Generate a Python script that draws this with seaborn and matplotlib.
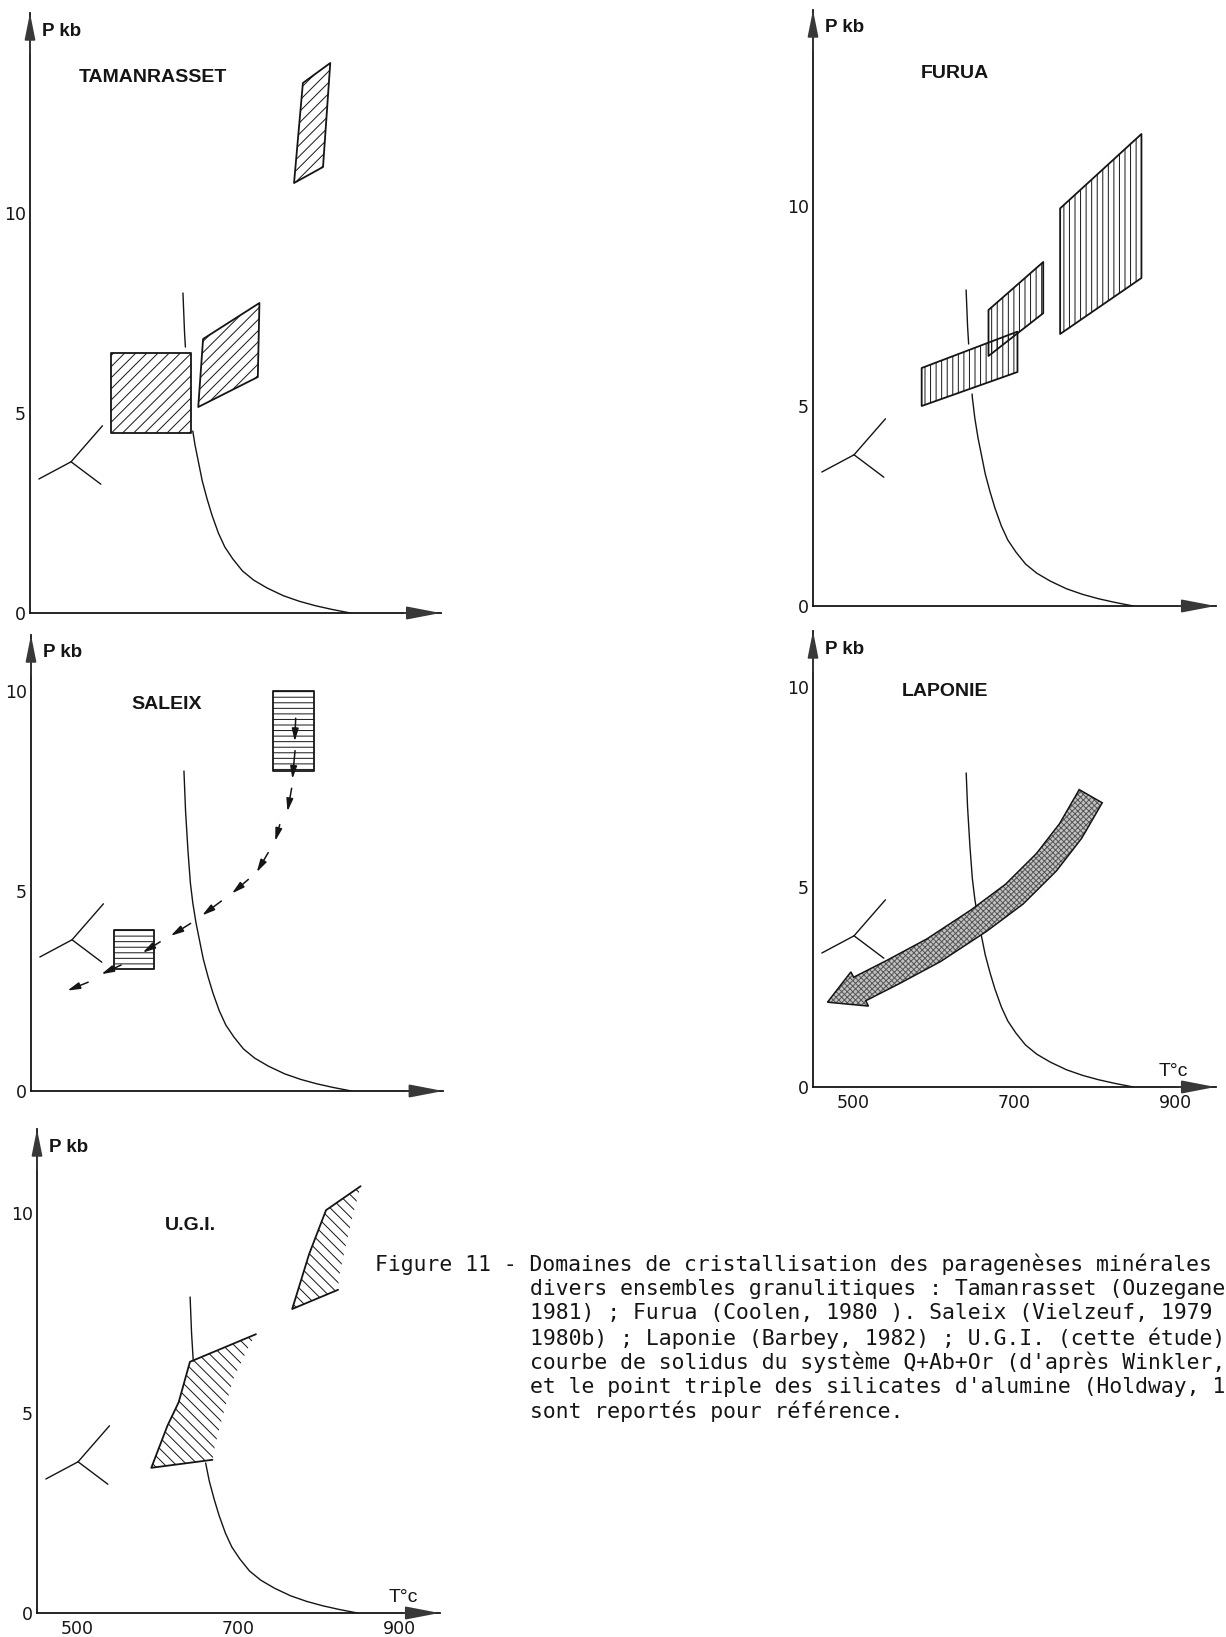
import numpy as np
import matplotlib
matplotlib.use("Agg")
import matplotlib.pyplot as plt
from matplotlib.patches import Polygon
import seaborn as sns

# ---------------- data (T in °C, P in kb) ----------------
X_TICKS = [500, 550, 600, 650, 700, 750, 800, 850, 900]
X_LABELED = [500, 700, 900]
Y_LABELED = [0, 5, 10]

# solidus Q+Ab+Or (Winkler)
SOL_T = np.array([640, 642, 645, 648, 651, 655, 659, 664, 670, 676, 684, 692, 702,
                  714, 728, 745, 765, 785, 805, 825, 848])
SOL_P = np.array([8.0, 7.0, 6.0, 5.2, 4.7, 4.2, 3.8, 3.3, 2.85, 2.45, 2.0, 1.65, 1.35,
                  1.05, 0.82, 0.62, 0.43, 0.29, 0.18, 0.09, 0.0])

# aluminosilicate triple point (Holdaway) and the three reaction lines
TP_T, TP_P = 501, 3.78
AS_END_T = [461, 540, 538]
AS_END_P = [3.35, 4.68, 3.22]

# Tamanrasset domains
TAM_A_T = [550, 550, 650, 650]
TAM_A_P = [4.5, 6.5, 6.5, 4.5]
TAM_B_T = [659, 665, 735, 733]
TAM_B_P = [5.15, 6.85, 7.75, 5.9]
TAM_C_T = [778, 789, 823, 814]
TAM_C_P = [10.75, 13.25, 13.75, 11.15]

# Furua domains
FUR_A_T = [585, 585, 704, 704]
FUR_A_P = [5.0, 5.95, 6.86, 5.85]
FUR_B_T = [668, 668, 736, 736]
FUR_B_P = [6.25, 7.4, 8.6, 7.32]
FUR_C_T = [757, 757, 858, 858]
FUR_C_P = [6.8, 9.94, 11.8, 8.2]

# Saleix domains and P-T path
SAL_A_T = [751, 751, 801, 801]
SAL_A_P = [8.0, 10.0, 10.0, 8.0]
SAL_B_T = [553, 553, 603, 603]
SAL_B_P = [3.05, 4.02, 4.02, 3.05]
SAL_PATH_T0 = [778.8, 778.0, 773.8, 759.0, 744.7, 720.0, 686.5, 648.3, 610.5, 562.0, 521.0]
SAL_PATH_P0 = [9.32, 8.51, 7.57, 6.66, 5.96, 5.29, 4.75, 4.19, 3.73, 3.15, 2.72]
SAL_PATH_T1 = [777.6, 774.7, 768.6, 753.4, 730.4, 699.6, 662.6, 623.6, 588.7, 537.4, 495.2]
SAL_PATH_P1 = [8.74, 7.80, 6.99, 6.25, 5.47, 4.94, 4.39, 3.88, 3.46, 2.92, 2.51]

# Laponie P-T band (centre line) and arrow tip
LAP_T = [508, 550, 600, 656, 700, 740, 770, 795]
LAP_P = [2.45, 2.88, 3.42, 4.16, 4.82, 5.62, 6.40, 7.27]
LAP_TIP_T, LAP_TIP_P = 468, 2.12

# U.G.I. domains (first points = outlined sides, last ones = open hatched side)
UGI_A_T = [668, 592, 612, 626, 640, 722, 714, 694, 682, 671]
UGI_A_P = [3.83, 3.63, 4.68, 5.27, 6.28, 6.97, 6.70, 5.86, 5.02, 4.18]
UGI_B_T = [824, 767, 788, 809, 852, 844, 834, 825]
UGI_B_P = [8.08, 7.6, 8.97, 10.07, 10.67, 10.07, 9.23, 8.39]

CAPTION_HEAD = "Figure 11 - "
CAPTION = [
    "Domaines de cristallisation des paragenèses minérales",
    "divers ensembles granulitiques : Tamanrasset (Ouzegane",
    "1981) ; Furua (Coolen, 1980 ). Saleix (Vielzeuf, 1979",
    "1980b) ; Laponie (Barbey, 1982) ; U.G.I. (cette étude)",
    "courbe de solidus du système Q+Ab+Or (d'après Winkler,",
    "et le point triple des silicates d'alumine (Holdway, 1",
    "sont reportés pour référence.",
]

# ---------------- style ----------------
sns.set_theme(style="white")
plt.rcParams["font.family"] = ["Liberation Sans", "DejaVu Sans"]
plt.rcParams["hatch.linewidth"] = 0.7
INK = "#151515"

W, H = 1226, 1637
fig = plt.figure(figsize=(W / 100, H / 100), dpi=100)
fig.patch.set_facecolor("white")

PX_DEG = 0.805
PX_KB = 40.0


def make_axes(x0, y0, ptop, tmax, ymax_tick, xlabels, title, title_pos, tlabel_pos=None):
    w = (tmax - 450) * PX_DEG
    h = ptop * PX_KB
    ax = fig.add_axes([x0 / W, 1 - y0 / H, w / W, h / H])
    ax.set_xlim(450, tmax)
    ax.set_ylim(0, ptop)
    ax.set_facecolor("none")
    ax.grid(False)
    for s in ["top", "right"]:
        ax.spines[s].set_visible(False)
    for s in ["left", "bottom"]:
        ax.spines[s].set_color(INK)
        ax.spines[s].set_linewidth(1.3)
    ax.set_xticks(X_TICKS)
    ax.set_xticklabels([str(t) if (xlabels and t in X_LABELED) else "" for t in X_TICKS],
                       fontfamily="DejaVu Sans", fontsize=12.5, color=INK)
    yt = list(range(0, ymax_tick + 1))
    ax.set_yticks(yt)
    ax.set_yticklabels([str(t) if t in Y_LABELED else "" for t in yt],
                       fontfamily="DejaVu Sans", fontsize=12.5, color=INK)
    ax.tick_params(axis="y", direction="in", length=6, width=1.0, color=INK, pad=3)
    ax.tick_params(axis="x", direction="in", length=6, width=1.0, color=INK, pad=5)
    ax.set_xlabel("")
    ax.set_ylabel("")
    # axis arrows
    ax.annotate("", xy=(tmax, 0), xytext=(tmax - 45, 0),
                arrowprops=dict(arrowstyle="-|>,head_length=1.3,head_width=0.25",
                                mutation_scale=16, color="#383838", lw=1.3,
                                shrinkA=0, shrinkB=0),
                annotation_clip=False)
    ax.annotate("", xy=(450, ptop), xytext=(450, ptop - 1.0),
                arrowprops=dict(arrowstyle="-|>,head_length=1.0,head_width=0.2",
                                mutation_scale=16, color="#383838", lw=1.3,
                                shrinkA=0, shrinkB=0),
                annotation_clip=False)
    ax.text(465, ptop - 0.45, "P kb", fontsize=13.5, fontweight="bold", color=INK,
            va="center", ha="left")
    ax.text(title_pos[0], title_pos[1], title, fontsize=14, fontweight="bold", color=INK,
            va="center", ha="left")
    if tlabel_pos is not None:
        ax.text(tlabel_pos[0], tlabel_pos[1], "T°c", fontsize=14, color=INK,
                va="center", ha="left")
    return ax


def draw_solidus(ax, ranges):
    Pr = SOL_P[::-1]
    Tr = SOL_T[::-1]
    for lo, hi in ranges:
        m = (SOL_P > lo) & (SOL_P < hi)
        t = np.r_[np.interp(hi, Pr, Tr), SOL_T[m], np.interp(lo, Pr, Tr)]
        p = np.r_[hi, SOL_P[m], lo]
        sns.lineplot(x=t, y=p, sort=False, estimator=None, color=INK, lw=1.0, ax=ax)


def draw_triple(ax):
    for te, pe in zip(AS_END_T, AS_END_P):
        sns.lineplot(x=[TP_T, te], y=[TP_P, pe], sort=False, estimator=None,
                     color=INK, lw=1.0, ax=ax)


def hatched(ax, T, P, hatch, n_outline=None, lw=1.3):
    xy = np.column_stack([T, P])
    ax.add_patch(Polygon(xy, closed=True, facecolor="none", edgecolor=INK, lw=0,
                         hatch=hatch, zorder=3))
    if n_outline is None:
        ax.add_patch(Polygon(xy, closed=True, facecolor="none", edgecolor=INK, lw=lw,
                             joinstyle="round", zorder=4))
    else:
        sns.lineplot(x=T[:n_outline], y=P[:n_outline], sort=False, estimator=None,
                     color=INK, lw=lw, ax=ax)


# ---------------- Tamanrasset ----------------
ax1 = make_axes(30, 613, 15.0, 960, 14, False, "TAMANRASSET", (511, 13.4))
draw_solidus(ax1, [(6.65, 8.0), (0.0, 4.55)])
draw_triple(ax1)
hatched(ax1, TAM_A_T, TAM_A_P, "///")
hatched(ax1, TAM_B_T, TAM_B_P, "///")
hatched(ax1, TAM_C_T, TAM_C_P, "///")

# ---------------- Furua ----------------
ax2 = make_axes(813, 606, 14.9, 950, 14, False, "FURUA", (584, 13.3))
draw_solidus(ax2, [(6.55, 7.9), (0.0, 5.3)])
draw_triple(ax2)
hatched(ax2, FUR_A_T, FUR_A_P, "|||")
hatched(ax2, FUR_B_T, FUR_B_P, "|||")
hatched(ax2, FUR_C_T, FUR_C_P, "|||")

# ---------------- Saleix ----------------
ax3 = make_axes(31, 1091, 11.4, 962, 10, False, "SALEIX", (575, 9.65))
draw_solidus(ax3, [(0.0, 8.0)])
draw_triple(ax3)
hatched(ax3, SAL_A_T, SAL_A_P, "---")
hatched(ax3, SAL_B_T, SAL_B_P, "---")
for t0, p0, t1, p1 in zip(SAL_PATH_T0, SAL_PATH_P0, SAL_PATH_T1, SAL_PATH_P1):
    ax3.annotate("", xy=(t1, p1), xytext=(t0, p0),
                 arrowprops=dict(arrowstyle="-|>,head_length=0.75,head_width=0.2",
                                 mutation_scale=10, color=INK, lw=1.1,
                                 shrinkA=0, shrinkB=0), zorder=5)

# ---------------- Laponie ----------------
ax4 = make_axes(813, 1087, 11.4, 950, 10, True, "LAPONIE", (560, 9.88), (879, 0.4))
draw_solidus(ax4, [(0.0, 7.85)])
draw_triple(ax4)
u = np.asarray(LAP_T, float) / 50.0
v = np.asarray(LAP_P, float)
du, dv = np.gradient(u), np.gradient(v)
nn = np.hypot(du, dv)
nx, ny = -dv / nn, du / nn
half, head = 0.33, 0.48
upper = np.column_stack([u + half * nx, v + half * ny])
lower = np.column_stack([u - half * nx, v - half * ny])
tip = np.array([[LAP_TIP_T / 50.0, LAP_TIP_P]])
barb_up = np.array([[u[0] + head * nx[0], v[0] + head * ny[0]]])
barb_lo = np.array([[u[0] - head * nx[0], v[0] - head * ny[0]]])
band = np.vstack([tip, barb_lo, lower, upper[::-1], barb_up])
band[:, 0] *= 50.0
ax4.add_patch(Polygon(band, closed=True, facecolor="#c2c2c2", edgecolor="#555555",
                      lw=0, hatch="xxxxxx", zorder=3))
ax4.add_patch(Polygon(band, closed=True, facecolor="none", edgecolor=INK, lw=1.1,
                      joinstyle="miter", zorder=4))

# ---------------- U.G.I. ----------------
ax5 = make_axes(37, 1613, 12.1, 950, 11, True, "U.G.I.", (609, 9.68), (887, 0.4))
draw_solidus(ax5, [(6.3, 7.9), (0.0, 3.75)])
draw_triple(ax5)
hatched(ax5, np.array(UGI_A_T), np.array(UGI_A_P), "\\\\\\", n_outline=6)
hatched(ax5, np.array(UGI_B_T), np.array(UGI_B_P), "\\\\\\", n_outline=5)

# ---------------- caption ----------------
CAP_FONT = dict(fontfamily="DejaVu Sans Mono", fontsize=15.4, color=INK, va="center",
                ha="left")
CAP_X0 = 375
CHAR_W = 15.4 * 0.602 * 100 / 72
y0 = 1264
dy = 24.6
fig.text(CAP_X0 / W, 1 - y0 / H, CAPTION_HEAD + CAPTION[0], **CAP_FONT)
for i, line in enumerate(CAPTION[1:], start=1):
    fig.text((CAP_X0 + 12 * CHAR_W) / W, 1 - (y0 + i * dy) / H, line, **CAP_FONT)

fig.savefig("out.png", dpi=100, facecolor="white")
